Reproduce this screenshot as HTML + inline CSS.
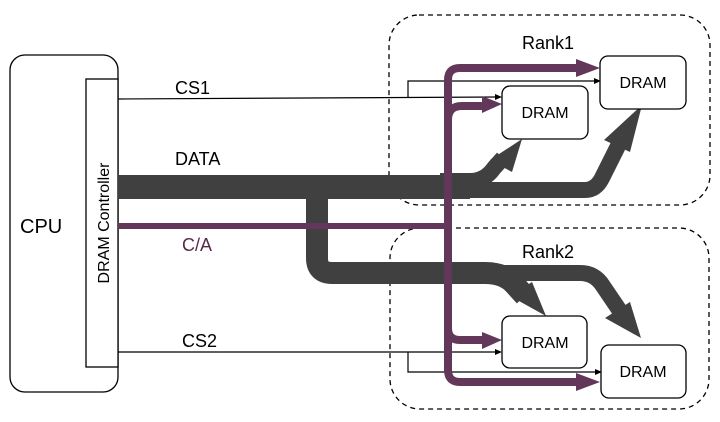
<!DOCTYPE html>
<html><head><style>body{margin:0;background:#fff}svg{display:block}</style></head><body>
<svg width="720" height="422" viewBox="0 0 720 422" xmlns="http://www.w3.org/2000/svg" font-family="Liberation Sans, Arial, sans-serif">
<!-- rank boxes -->
<rect x="389" y="15" width="321" height="190" rx="30" fill="none" stroke="#000" stroke-width="1.3" stroke-dasharray="5,4"/>
<rect x="390" y="228" width="319" height="181" rx="30" fill="none" stroke="#000" stroke-width="1.3" stroke-dasharray="5,4"/>
<text x="548" y="49" font-size="18" text-anchor="middle">Rank1</text>
<text x="548" y="258" font-size="18" text-anchor="middle">Rank2</text>
<!-- CPU -->
<rect x="10" y="55" width="108" height="337" rx="15" fill="#fff" stroke="#000" stroke-width="1.3"/>
<rect x="86" y="79" width="32" height="288" fill="#fff" stroke="#000" stroke-width="1.3"/>
<text x="20" y="233" font-size="20">CPU</text>
<text transform="translate(109,223) rotate(-90)" font-size="16" text-anchor="middle">DRAM Controller</text>
<!-- thin CS lines -->
<g stroke="#000" stroke-width="1.2" fill="none">
<path d="M118 99 L497 97"/>
<path d="M408 97 V81 H596"/>
<path d="M118 352 H497"/>
<path d="M408 352 V372 H597"/>
</g>
<g fill="#000">
<polygon points="502,97 495,94 495,100"/>
<polygon points="601,81 594,78 594,84"/>
<polygon points="502,352 495,349 495,355"/>
<polygon points="602,372 595,369 595,375"/>
</g>
<text x="175" y="94" font-size="18">CS1</text>
<text x="182" y="347" font-size="18">CS2</text>
<text x="175" y="165" font-size="18">DATA</text>
<text x="182" y="251" font-size="18" fill="#5a2848">C/A</text>
<!-- DATA -->
<g stroke="#404040" fill="none" stroke-linejoin="round">
<path d="M118 187 H470" stroke-width="24"/>
<path d="M440 181 H470 Q485 181 494 168 L503 158" stroke-width="16"/>
<path d="M440 190 H585 Q596 190 602 178 L618 146" stroke-width="16"/>
<path d="M317 187 V258 Q317 273 332 273 H485 Q505 273 515 285 L525 296" stroke-width="22"/>
<path d="M480 273 H580 Q595 273 603 286 L622 314" stroke-width="16"/>
</g>
<g fill="#404040">
<polygon points="522,139 490,160 512,172"/>
<polygon points="642,105 604,140 630,152"/>
<polygon points="546,316 510,296 532,282"/>
<polygon points="641,338 605,318 630,302"/>
</g>
<!-- purple C/A -->
<g stroke="#62375a" fill="none" stroke-width="8">
<path d="M118 226 H448" stroke-width="6"/>
<path d="M448 372 V80 Q448 68 460 68 H580"/>
<path d="M448 120 Q448 106 462 106 H484"/>
<path d="M448 328 Q448 340 460 340 H484"/>
<path d="M448 370 Q448 382 460 382 H580"/>
</g>
<g fill="#62375a">
<polygon points="600,68 576,59 576,77"/>
<polygon points="502,104 482,96 482,113"/>
<polygon points="502,340 482,332 482,349"/>
<polygon points="600,382 576,373 576,391"/>
</g>
<!-- DRAM boxes -->
<g fill="#fff" stroke="#000" stroke-width="1.3">
<rect x="600" y="56" width="86" height="53" rx="8"/>
<rect x="502" y="86" width="86" height="53" rx="8"/>
<rect x="502" y="316" width="85" height="52" rx="8"/>
<rect x="601" y="345" width="85" height="53" rx="8"/>
</g>
<g font-size="16" text-anchor="middle">
<text x="643" y="88">DRAM</text>
<text x="545" y="118">DRAM</text>
<text x="545" y="348">DRAM</text>
<text x="643" y="377">DRAM</text>
</g>
</svg>
</body></html>
